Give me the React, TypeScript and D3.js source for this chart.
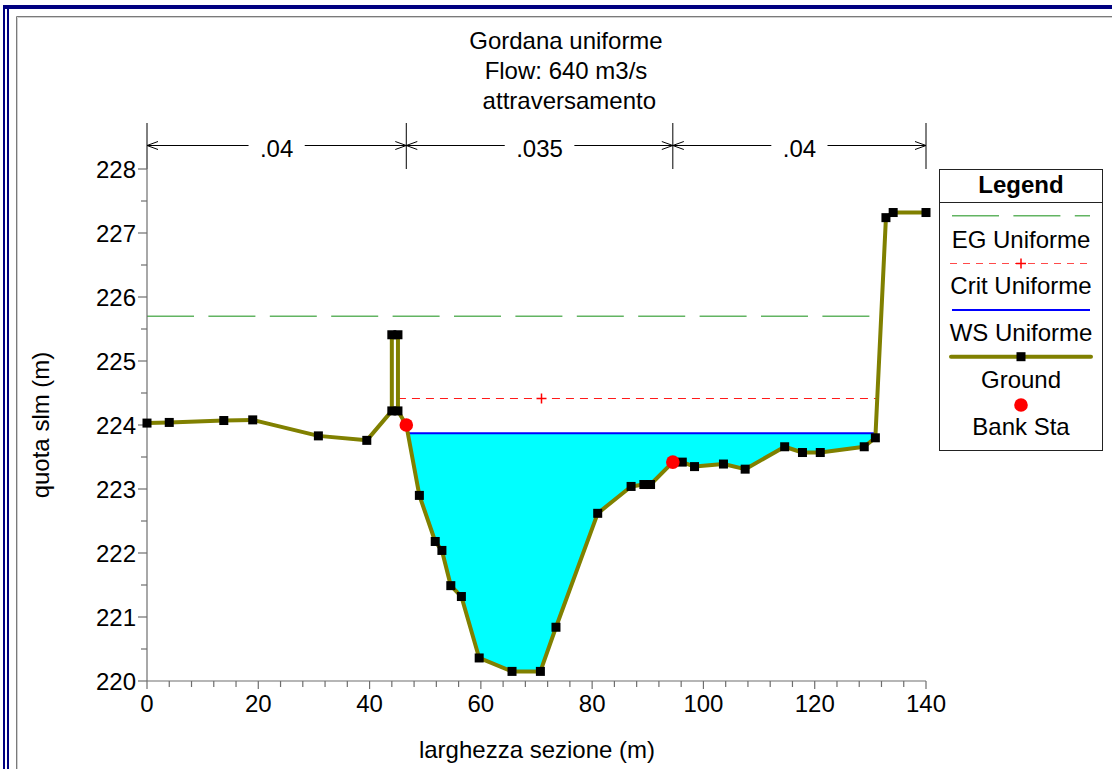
import { useEffect, useRef } from 'react';
import * as d3 from 'd3';

// Ground profile (station m, elevation m)
const stations = [
  0, 4.0, 13.8, 19.0, 30.8, 39.5, 44.0, 44.0, 45.1, 45.1, 46.6, 48.95, 51.8, 53.0, 54.6, 56.5,
  59.7, 65.6, 70.7, 73.5, 81.0, 87.0, 89.3, 90.5, 94.5, 96.2, 98.4, 103.6, 107.5, 114.6, 117.8,
  121.0, 128.9, 130.9, 132.8, 134.1, 140.0,
];
const elevations = [
  224.03, 224.04, 224.07, 224.08, 223.83, 223.76, 224.22, 225.41, 225.41, 224.22, 224.0, 222.9,
  222.18, 222.04, 221.49, 221.32, 220.36, 220.15, 220.15, 220.84, 222.62, 223.04, 223.07, 223.07,
  223.42, 223.42, 223.35, 223.39, 223.31, 223.66, 223.57, 223.57, 223.66, 223.8, 227.24, 227.32,
  227.32,
];
const bankStations = [46.6, 94.5];
const bankElevations = [224.0, 223.42];

const wsElev = 223.87;
const egElev = 225.7;
const critElev = 224.42;
const critMarkStation = 70.8;

const nValues = ['.04', '.035', '.04'];
const nBreaks = [0, 46.6, 94.5, 140];

const xTicks = [0, 20, 40, 60, 80, 100, 120, 140];
const yTicks = [220, 221, 222, 223, 224, 225, 226, 227, 228];
const titleLines = ['Gordana uniforme', 'Flow: 640 m3/s', '\u00a0attraversamento'];
const legendLabels = ['EG Uniforme', 'Crit Uniforme', 'WS Uniforme', 'Ground', 'Bank Sta'];

const FONT = '"Liberation Sans", Arial, sans-serif';

// where the ground rises through a given level on each side of the channel
function crossings(level: number) {
  const iMin = d3.minIndex(elevations);
  let xl = stations[0];
  let il = 0;
  for (let i = iMin; i > 0; i--) {
    if (elevations[i - 1] >= level) {
      const t = (level - elevations[i]) / (elevations[i - 1] - elevations[i]);
      xl = stations[i] + t * (stations[i - 1] - stations[i]);
      il = i;
      break;
    }
  }
  let xr = stations[stations.length - 1];
  let ir = stations.length - 1;
  for (let j = iMin; j < stations.length - 1; j++) {
    if (elevations[j + 1] >= level) {
      const t = (level - elevations[j]) / (elevations[j + 1] - elevations[j]);
      xr = stations[j] + t * (stations[j + 1] - stations[j]);
      ir = j;
      break;
    }
  }
  return { xl, xr, il, ir };
}

export default function App() {
  const svgRef = useRef<SVGSVGElement>(null);

  useEffect(() => {
    if (!svgRef.current) return;
    const svg = d3.select(svgRef.current);
    svg.selectAll('*').remove();

    const x = d3.scaleLinear().domain([0, 140]).range([147, 926]);
    const y = d3.scaleLinear().domain([220, 228]).range([681, 169]);

    // frame
    svg.append('rect').attr('x', 3).attr('y', 5).attr('width', 1200).attr('height', 4).attr('fill', '#000080');
    svg.append('rect').attr('x', 3).attr('y', 5).attr('width', 2).attr('height', 800).attr('fill', '#000080');
    svg.append('rect').attr('x', 7).attr('y', 9).attr('width', 2).attr('height', 800).attr('fill', '#000080');
    svg.append('path').attr('d', 'M16.5,800V16.5H1200').attr('fill', 'none').attr('stroke', '#7a7a7a');
    svg.append('path').attr('d', 'M17.5,800V17.5H1200').attr('fill', 'none').attr('stroke', '#d0d0d0');

    // title
    svg.append('g')
      .selectAll('text')
      .data(titleLines)
      .join('text')
      .attr('x', 566)
      .attr('y', (_, i) => 49 + i * 30)
      .attr('text-anchor', 'middle')
      .attr('font-family', FONT)
      .attr('font-size', 24)
      .attr('fill', '#000')
      .text((d) => d);

    // Manning's n bar
    const nY = 145.5;
    const nb = svg.append('g').attr('stroke', '#000').attr('stroke-width', 1).attr('fill', 'none');
    nBreaks.forEach((b) => {
      nb.append('line').attr('x1', x(b)).attr('x2', x(b)).attr('y1', 123).attr('y2', 169);
    });
    nValues.forEach((v, i) => {
      const x0 = x(nBreaks[i]);
      const x1 = x(nBreaks[i + 1]);
      const cx = (x0 + x1) / 2;
      const half = v.length * 6.7 + 8;
      nb.append('line').attr('x1', x0).attr('x2', cx - half).attr('y1', nY).attr('y2', nY);
      nb.append('line').attr('x1', cx + half).attr('x2', x1).attr('y1', nY).attr('y2', nY);
      nb.append('path').attr('d', `M${x0 + 11},${nY - 4}L${x0},${nY}L${x0 + 11},${nY + 4}`);
      nb.append('path').attr('d', `M${x1 - 11},${nY - 4}L${x1},${nY}L${x1 - 11},${nY + 4}`);
      svg.append('text')
        .attr('x', cx)
        .attr('y', 157)
        .attr('text-anchor', 'middle')
        .attr('font-family', FONT)
        .attr('font-size', 24)
        .text(v);
    });

    const line = d3.line<number>().x((i) => x(stations[i])).y((i) => y(elevations[i]));
    const idx = d3.range(stations.length);

    // water fill
    const w = crossings(wsElev);
    const fillPts: [number, number][] = [[w.xl, wsElev]];
    for (let i = w.il; i <= w.ir; i++) fillPts.push([stations[i], elevations[i]]);
    fillPts.push([w.xr, wsElev]);
    svg.append('path')
      .attr('d', d3.line<[number, number]>().x((d) => x(d[0])).y((d) => y(d[1]))(fillPts) + 'Z')
      .attr('fill', '#00ffff');

    // EG
    const eg = crossings(egElev);
    svg.append('line')
      .attr('x1', x(eg.xl)).attr('x2', x(eg.xr))
      .attr('y1', y(egElev)).attr('y2', y(egElev))
      .attr('stroke', '#62b462').attr('stroke-width', 1.5)
      .attr('stroke-dasharray', '47 14.4');

    // Crit
    const cr = crossings(critElev);
    const cy = Math.round(y(critElev)) + 0.5;
    svg.append('line')
      .attr('x1', x(cr.xl)).attr('x2', x(cr.xr))
      .attr('y1', cy).attr('y2', cy)
      .attr('stroke', '#ff1a1a').attr('stroke-width', 1)
      .attr('stroke-dasharray', '8 6');
    const cm = Math.round(x(critMarkStation)) + 0.5;
    svg.append('path')
      .attr('d', `M${cm - 5},${cy}H${cm + 5}M${cm},${cy - 5}V${cy + 5}`)
      .attr('stroke', '#ff0000').attr('stroke-width', 1.5);

    // WS
    svg.append('line')
      .attr('x1', x(w.xl)).attr('x2', x(w.xr))
      .attr('y1', y(wsElev)).attr('y2', y(wsElev))
      .attr('stroke', '#0000ff').attr('stroke-width', 2);

    // axes
    const ax = svg.append('g').attr('stroke', '#6e6e6e').attr('stroke-width', 1.2);
    ax.append('line').attr('x1', x(0)).attr('x2', x(0)).attr('y1', y(228)).attr('y2', y(220));
    ax.append('line').attr('x1', x(0)).attr('x2', x(140)).attr('y1', y(220)).attr('y2', y(220));
    d3.range(0, 141, 4).forEach((t) => {
      const major = t % 20 === 0;
      ax.append('line').attr('x1', x(t)).attr('x2', x(t)).attr('y1', y(220)).attr('y2', y(220) + (major ? 8 : 6));
    });
    d3.range(220, 228.01, 0.5).forEach((t) => {
      const major = t % 1 === 0;
      ax.append('line').attr('x1', x(0) - (major ? 9 : 6)).attr('x2', x(0)).attr('y1', y(t)).attr('y2', y(t));
    });
    svg.append('g')
      .selectAll('text')
      .data(xTicks)
      .join('text')
      .attr('x', (d) => x(d))
      .attr('y', 712)
      .attr('text-anchor', 'middle')
      .attr('font-family', FONT)
      .attr('font-size', 24)
      .text((d) => d);
    svg.append('g')
      .selectAll('text')
      .data(yTicks)
      .join('text')
      .attr('x', 136)
      .attr('y', (d) => y(d) + 9)
      .attr('text-anchor', 'end')
      .attr('font-family', FONT)
      .attr('font-size', 24)
      .text((d) => d);

    svg.append('text')
      .attr('x', 537)
      .attr('y', 758)
      .attr('text-anchor', 'middle')
      .attr('font-family', FONT)
      .attr('font-size', 24)
      .text('larghezza sezione (m)');
    svg.append('text')
      .attr('transform', `translate(49,${(y(220) + y(228)) / 2}) rotate(-90)`)
      .attr('text-anchor', 'middle')
      .attr('font-family', FONT)
      .attr('font-size', 24)
      .text('quota slm (m)');

    // ground
    svg.append('path')
      .attr('d', line(idx))
      .attr('fill', 'none')
      .attr('stroke', '#808000')
      .attr('stroke-width', 4)
      .attr('stroke-linejoin', 'round');
    svg.append('g')
      .selectAll('rect')
      .data(idx)
      .join('rect')
      .attr('x', (i) => x(stations[i]) - 4.5)
      .attr('y', (i) => y(elevations[i]) - 4.5)
      .attr('width', 9)
      .attr('height', 9)
      .attr('fill', '#000');
    svg.append('g')
      .selectAll('circle')
      .data(bankStations)
      .join('circle')
      .attr('cx', (d) => x(d))
      .attr('cy', (_, i) => y(bankElevations[i]))
      .attr('r', 6.8)
      .attr('fill', '#ff0000');

    // legend
    const lg = svg.append('g');
    lg.append('rect').attr('x', 939.5).attr('y', 169.5).attr('width', 163).attr('height', 281)
      .attr('fill', '#fff').attr('stroke', '#222').attr('stroke-width', 1);
    lg.append('line').attr('x1', 939.5).attr('x2', 1102.5).attr('y1', 202.5).attr('y2', 202.5).attr('stroke', '#222');
    lg.append('text').attr('x', 1021).attr('y', 193).attr('text-anchor', 'middle')
      .attr('font-family', FONT).attr('font-size', 24).attr('font-weight', 'bold').text('Legend');
    const lx0 = 952;
    const lx1 = 1090;
    const lcx = (lx0 + lx1) / 2;
    const symY = [215.7, 263.5, 310, 356.7, 405];
    const textY = [248, 294, 340.5, 388, 434.5];
    lg.append('line').attr('x1', lx0).attr('x2', lx1).attr('y1', symY[0]).attr('y2', symY[0])
      .attr('stroke', '#62b462').attr('stroke-width', 1.5).attr('stroke-dasharray', '47 14.4');
    lg.append('line').attr('x1', lx0 - 2).attr('x2', lx1).attr('y1', symY[1]).attr('y2', symY[1])
      .attr('stroke', '#ff4a4a').attr('stroke-width', 1.2).attr('stroke-dasharray', '7 6');
    lg.append('path').attr('d', `M${lcx - 5},${symY[1]}H${lcx + 5}M${lcx},${symY[1] - 5}V${symY[1] + 5}`)
      .attr('stroke', '#ff0000').attr('stroke-width', 1.5);
    lg.append('line').attr('x1', lx0).attr('x2', lx1).attr('y1', symY[2]).attr('y2', symY[2])
      .attr('stroke', '#0000ff').attr('stroke-width', 2);
    lg.append('line').attr('x1', lx0 - 1).attr('x2', lx1 + 1).attr('y1', symY[3]).attr('y2', symY[3])
      .attr('stroke', '#808000').attr('stroke-width', 4).attr('stroke-linecap', 'round');
    lg.append('rect').attr('x', lcx - 4.5).attr('y', symY[3] - 4.5).attr('width', 9).attr('height', 9).attr('fill', '#000');
    lg.append('circle').attr('cx', lcx).attr('cy', symY[4]).attr('r', 6.8).attr('fill', '#ff0000');
    lg.selectAll('text.item')
      .data(legendLabels)
      .join('text')
      .attr('class', 'item')
      .attr('x', lcx)
      .attr('y', (_, i) => textY[i])
      .attr('text-anchor', 'middle')
      .attr('font-family', FONT)
      .attr('font-size', 24)
      .text((d) => d);
  }, []);

  return (
    <div style={{ position: 'fixed', left: 0, top: 0, width: 1112, height: 769, background: '#fff' }}>
      <svg ref={svgRef} width={1112} height={769} />
    </div>
  );
}
